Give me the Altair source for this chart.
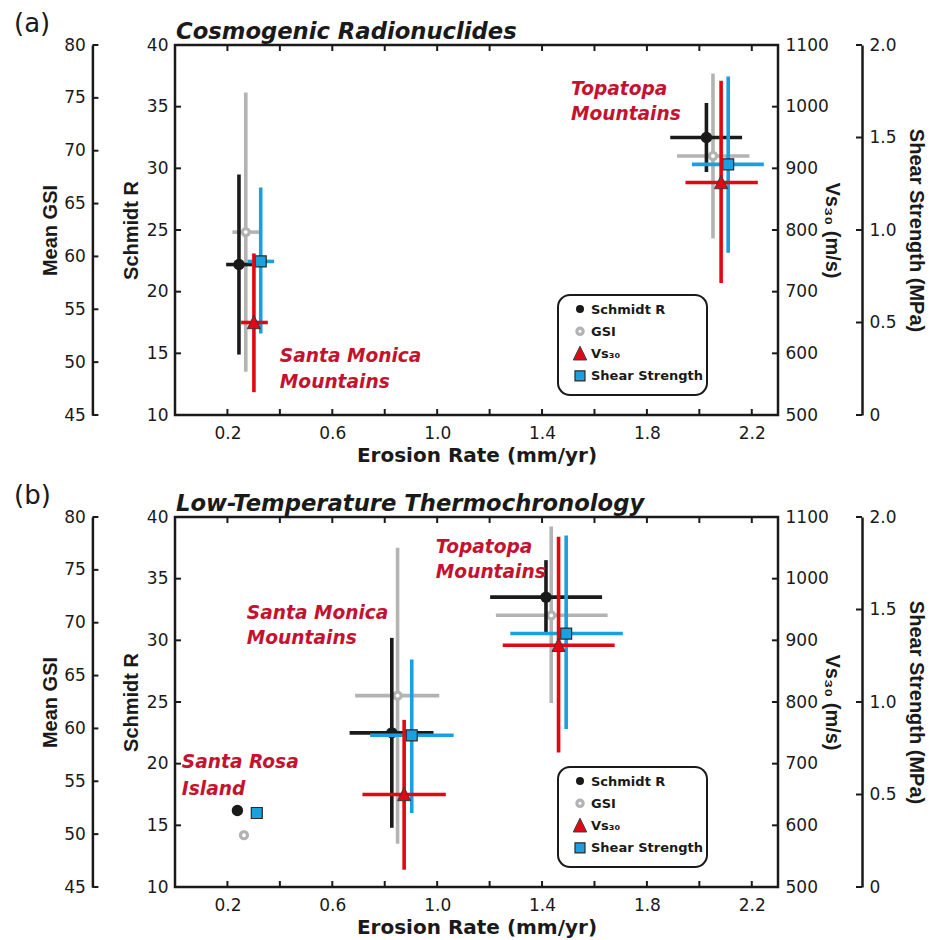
import altair as alt
import pandas as pd

FONT_H = "DejaVu Sans"       # horizontal text
FONT_V = "Liberation Sans"   # rotated axis titles
INK = "#1a1a1a"
LABEL_RED = "#c4122f"

# ---------------- Panel (a): cosmogenic radionuclide erosion rates ----------------
A_SITES = ["Santa Monica Mountains", "Topatopa Mountains"]

A_SCH_ER = [0.244, 2.027]
A_SCH_ER_LO = [0.195, 1.889]
A_SCH_ER_HI = [0.294, 2.163]
A_SCH = [22.2, 32.5]
A_SCH_LO = [14.9, 29.7]
A_SCH_HI = [29.5, 35.3]

A_GSI_ER = [0.270, 2.052]
A_GSI_ER_LO = [0.219, 1.915]
A_GSI_ER_HI = [0.320, 2.191]
A_GSI = [62.3, 69.5]
A_GSI_LO = [49.1, 61.7]
A_GSI_HI = [75.5, 77.3]

A_VS_ER = [0.301, 2.083]
A_VS_ER_LO = [0.252, 1.947]
A_VS_ER_HI = [0.354, 2.223]
A_VS = [650, 877]
A_VS_LO = [537, 714]
A_VS_HI = [762, 1042]

A_SS_ER = [0.327, 2.110]
A_SS_ER_LO = [0.277, 1.972]
A_SS_ER_HI = [0.378, 2.246]
A_SS = [0.83, 1.355]
A_SS_LO = [0.44, 0.877]
A_SS_HI = [1.23, 1.83]

# ---------------- Panel (b): low-temperature thermochronology erosion rates ----------------
B_SITES = ["Santa Rosa Island", "Santa Monica Mountains", "Topatopa Mountains"]

B_SCH_ER = [0.238, 0.827, 1.415]
B_SCH_ER_LO = [None, 0.666, 1.202]
B_SCH_ER_HI = [None, 0.986, 1.629]
B_SCH = [16.2, 22.5, 33.5]
B_SCH_LO = [None, 14.8, 30.6]
B_SCH_HI = [None, 30.2, 36.5]

B_GSI_ER = [0.263, 0.849, 1.435]
B_GSI_ER_LO = [None, 0.687, 1.224]
B_GSI_ER_HI = [None, 1.008, 1.650]
B_GSI = [49.9, 63.1, 70.7]
B_GSI_LO = [None, 49.1, 62.4]
B_GSI_HI = [None, 77.1, 79.1]

B_VS_SITES = ["Santa Monica Mountains", "Topatopa Mountains"]
B_VS_ER = [0.874, 1.463]
B_VS_ER_LO = [0.715, 1.250]
B_VS_ER_HI = [1.033, 1.677]
B_VS = [650, 892]
B_VS_LO = [528, 718]
B_VS_HI = [771, 1068]

B_SS_ER = [0.312, 0.903, 1.492]
B_SS_ER_LO = [None, 0.744, 1.279]
B_SS_ER_HI = [None, 1.063, 1.708]
B_SS = [0.40, 0.82, 1.37]
B_SS_LO = [None, 0.40, 0.854]
B_SS_HI = [None, 1.23, 1.90]

# ---------------- Axis tick values ----------------
ER_TICKS = [0.2, 0.4, 0.6, 0.8, 1.0, 1.2, 1.4, 1.6, 1.8, 2.0, 2.2]
ER_LABELS = [0.2, 0.6, 1.0, 1.4, 1.8, 2.2]
SCH_TICKS = [10, 15, 20, 25, 30, 35, 40]
GSI_TICKS = [45, 50, 55, 60, 65, 70, 75, 80]
VS_TICKS = [500, 600, 700, 800, 900, 1000, 1100]
SS_TICKS = [0, 0.5, 1.0, 1.5, 2.0]

# Site annotations (erosion rate, Schmidt R units, text)
A_NOTES = pd.DataFrame({
    "er": [1.51, 1.51, 0.40, 0.40],
    "r": [35.95, 33.92, 14.30, 12.19],
    "text": ["Topatopa", "Mountains", "Santa Monica", "Mountains"],
})
B_NOTES = pd.DataFrame({
    "er": [0.995, 0.995, 0.274, 0.274, 0.026, 0.026],
    "r": [37.08, 35.05, 31.73, 29.70, 19.65, 17.46],
    "text": ["Topatopa", "Mountains", "Santa Monica", "Mountains", "Santa Rosa", "Island"],
})

W, H = 603, 370
GSI_OFF = 82.6
SS_OFF = 84
TICK = 6
BAR_W = 3.6

X_SCALE = alt.Scale(domain=[0, 2.3], nice=False, zero=False)
X_AXIS = alt.Axis(
    values=ER_LABELS, format=".1f", title="Erosion Rate (mm/yr)", grid=False,
    domain=False, ticks=False, tickSize=0, labelPadding=10,
    labelFont=FONT_H, labelFontSize=17, labelColor=INK,
    titleFont=FONT_H, titleFontSize=20, titleFontWeight="bold", titleColor=INK,
    titlePadding=4,
)


def y_axis(title, values, orient, offset, title_pad, domain=False, fmt=None, label_expr=None):
    kw = dict(
        title=title, values=values, orient=orient, offset=offset, grid=False,
        ticks=False, tickSize=0, domain=domain, domainColor=INK, domainWidth=2.5,
        labelPadding=7, labelFont=FONT_H, labelFontSize=17, labelColor=INK,
        titleFont=FONT_V, titleFontSize=20, titleFontWeight="bold", titleColor=INK,
        titlePadding=title_pad,
    )
    if fmt:
        kw["format"] = fmt
    if label_expr:
        kw["labelExpr"] = label_expr
    return alt.Axis(**kw)


SCH_SCALE = alt.Scale(domain=[10, 40], nice=False, zero=False)
GSI_SCALE = alt.Scale(domain=[45, 80], nice=False, zero=False)
VS_SCALE = alt.Scale(domain=[500, 1100], nice=False, zero=False)
SS_SCALE = alt.Scale(domain=[0, 2], nice=False, zero=False)

SCH_AXIS = y_axis("Schmidt R", SCH_TICKS, "left", 0, 5, fmt="d")
GSI_AXIS = y_axis("Mean GSI", GSI_TICKS, "left", GSI_OFF, 3, domain=True, fmt="d")
VS_AXIS = y_axis("Vs₃₀ (m/s)", VS_TICKS, "right", 0, -7, fmt="d")
SS_AXIS = y_axis("Shear Strength (MPa)", SS_TICKS, "right", SS_OFF, 9, domain=True,
                 label_expr="datum.value == 0 ? '0' : format(datum.value, '.1f')")

TRIANGLE = "M0,-1.05L-0.95,0.9L0.95,0.9Z"

MARKERS = {
    "sch": dict(shape="circle", size=130, filled=True, color=INK, opacity=1),
    "gsi": dict(shape="circle", size=50, filled=True, color="white", stroke="#b3b3b3",
                strokeWidth=3.2, opacity=1),
    "vs": dict(shape=TRIANGLE, size=190, filled=True, color="#e30613", stroke="#3a3a3a",
               strokeWidth=1, opacity=1),
    "ss": dict(shape="square", size=120, filled=True, color="#1aa0e0", stroke="#2a2a2a",
               strokeWidth=1.2, opacity=1),
}
COLORS = {"sch": INK, "gsi": "#b3b3b3", "vs": "#e30613", "ss": "#1aa0e0"}


def frame(site, er, er_lo, er_hi, val, lo, hi):
    return pd.DataFrame({"site": site, "er": er, "er_lo": er_lo, "er_hi": er_hi,
                         "val": val, "lo": lo, "hi": hi})


def quantity(df, key, y_scale, axis, tick_vals, tick_x0, extra=None):
    color = COLORS[key]
    bars = df.dropna()
    y_enc = lambda f: alt.Y(f, scale=y_scale, axis=axis)
    vert = alt.Chart(bars).mark_rule(color=color, strokeWidth=BAR_W).encode(
        x=alt.X("er:Q", scale=X_SCALE, axis=X_AXIS),
        y=y_enc("lo:Q"), y2="hi:Q")
    horiz = alt.Chart(bars).mark_rule(color=color, strokeWidth=BAR_W).encode(
        x=alt.X("er_lo:Q", scale=X_SCALE, axis=X_AXIS), x2="er_hi:Q",
        y=y_enc("val:Q"))
    pts = alt.Chart(df).mark_point(**MARKERS[key]).encode(
        x=alt.X("er:Q", scale=X_SCALE, axis=X_AXIS), y=y_enc("val:Q"))
    ticks = alt.Chart(pd.DataFrame({"t": tick_vals})).mark_rule(
        color=INK, strokeWidth=2).encode(
        x=alt.value(tick_x0), x2=alt.value(tick_x0 + TICK), y=y_enc("t:Q"))
    layers = [vert, horiz, pts, ticks]
    if extra is not None:
        layers.append(extra)
    return alt.layer(*layers)


def notes_layer(df):
    return alt.Chart(df).mark_text(
        font=FONT_H, fontSize=18.6, fontWeight="bold", fontStyle="italic",
        color=LABEL_RED, align="left", baseline="alphabetic").encode(
        x=alt.X("er:Q", scale=X_SCALE, axis=X_AXIS),
        y=alt.Y("r:Q", scale=SCH_SCALE, axis=SCH_AXIS),
        text="text:N")


ONE = pd.DataFrame({"k": [0]})


def x_ticks():
    tdf = pd.DataFrame({"t": ER_TICKS})
    bottom = alt.Chart(tdf).mark_rule(color=INK, strokeWidth=2).encode(
        x=alt.X("t:Q", scale=X_SCALE, axis=X_AXIS), y=alt.value(H), y2=alt.value(H - TICK))
    top = alt.Chart(tdf).mark_rule(color=INK, strokeWidth=2).encode(
        x=alt.X("t:Q", scale=X_SCALE, axis=X_AXIS), y=alt.value(0), y2=alt.value(TICK))
    return [bottom, top]


def legend():
    box = alt.Chart(ONE).mark_rect(fill="white", stroke=INK, strokeWidth=2,
                                   cornerRadius=12).encode(
        x=alt.value(383), x2=alt.value(532), y=alt.value(250), y2=alt.value(350))
    items = [
        ("Schmidt R", dict(shape="circle", size=64, filled=True, color=INK, opacity=1)),
        ("GSI", dict(shape="circle", size=40, filled=True, color="white",
                     stroke="#b3b3b3", strokeWidth=3.2, opacity=1)),
        ("Vs₃₀", dict(shape=TRIANGLE, size=200, filled=True, color="#e30613",
                      stroke="#3a3a3a", strokeWidth=1, opacity=1)),
        ("Shear Strength", dict(shape="square", size=100, filled=True, color="#1aa0e0",
                                stroke="#2a2a2a", strokeWidth=1.2, opacity=1)),
    ]
    out = [box]
    for i, (label, mk) in enumerate(items):
        yc = 264 + i * 22.3
        out.append(alt.Chart(ONE).mark_point(**mk).encode(
            x=alt.value(405), y=alt.value(yc)))
        out.append(alt.Chart(ONE).mark_text(
            text=label, font=FONT_H, fontSize=13, fontWeight="bold", color=INK,
            align="left", baseline="middle").encode(
            x=alt.value(416), y=alt.value(yc + 0.5)))
    return out


def heading(letter, title):
    let = alt.Chart(ONE).mark_text(
        text=letter, font=FONT_H, fontSize=26, color=INK, align="left",
        baseline="alphabetic").encode(x=alt.value(-161), y=alt.value(-13))
    ttl = alt.Chart(ONE).mark_text(
        text=title, font=FONT_H, fontSize=22.7, fontWeight="bold", fontStyle="italic",
        color=INK, align="left", baseline="alphabetic").encode(
        x=alt.value(1), y=alt.value(-6))
    return [let, ttl]


def panel(sch, gsi, vs, ss, notes, letter, title):
    sch_l = quantity(sch, "sch", SCH_SCALE, SCH_AXIS, SCH_TICKS, 0, extra=notes_layer(notes))
    gsi_l = quantity(gsi, "gsi", GSI_SCALE, GSI_AXIS, GSI_TICKS, -GSI_OFF)
    vs_l = quantity(vs, "vs", VS_SCALE, VS_AXIS, VS_TICKS, W - TICK)
    ss_l = quantity(ss, "ss", SS_SCALE, SS_AXIS, SS_TICKS, W + SS_OFF - TICK)
    layers = [gsi_l, sch_l, ss_l, vs_l] + x_ticks() + legend() + heading(letter, title)
    return alt.layer(*layers).resolve_scale(y="independent").properties(width=W, height=H)


panel_a = panel(
    frame(A_SITES, A_SCH_ER, A_SCH_ER_LO, A_SCH_ER_HI, A_SCH, A_SCH_LO, A_SCH_HI),
    frame(A_SITES, A_GSI_ER, A_GSI_ER_LO, A_GSI_ER_HI, A_GSI, A_GSI_LO, A_GSI_HI),
    frame(A_SITES, A_VS_ER, A_VS_ER_LO, A_VS_ER_HI, A_VS, A_VS_LO, A_VS_HI),
    frame(A_SITES, A_SS_ER, A_SS_ER_LO, A_SS_ER_HI, A_SS, A_SS_LO, A_SS_HI),
    A_NOTES, "(a)", "Cosmogenic Radionuclides",
)
panel_b = panel(
    frame(B_SITES, B_SCH_ER, B_SCH_ER_LO, B_SCH_ER_HI, B_SCH, B_SCH_LO, B_SCH_HI),
    frame(B_SITES, B_GSI_ER, B_GSI_ER_LO, B_GSI_ER_HI, B_GSI, B_GSI_LO, B_GSI_HI),
    frame(B_VS_SITES, B_VS_ER, B_VS_ER_LO, B_VS_ER_HI, B_VS, B_VS_LO, B_VS_HI),
    frame(B_SITES, B_SS_ER, B_SS_ER_LO, B_SS_ER_HI, B_SS, B_SS_LO, B_SS_HI),
    B_NOTES, "(b)", "Low-Temperature Thermochronology",
)

chart = alt.vconcat(panel_a, panel_b, spacing=102, bounds="flush").properties(
    padding={"left": 12, "top": 9, "right": 5, "bottom": 5},
    background="white",
).configure_view(stroke=INK, strokeWidth=2.5)

chart.save("out.html", embed_options={"renderer": "svg", "actions": False})
